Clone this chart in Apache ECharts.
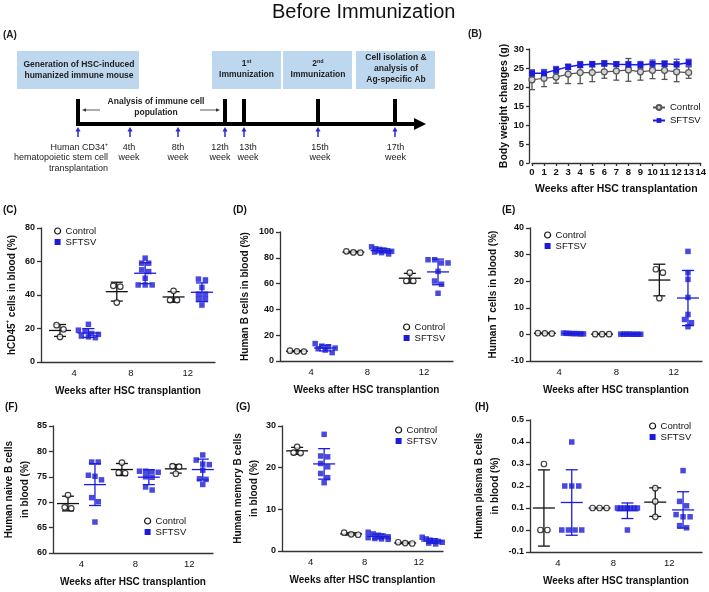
<!DOCTYPE html>
<html>
<head>
<meta charset="utf-8">
<title>Before Immunization</title>
<script src="https://cdn.jsdelivr.net/npm/echarts@6/dist/echarts.min.js"></script>
<style>
  html, body { margin: 0; padding: 0; background: #fff; }
  #main { width: 709px; height: 592px; }
</style>
</head>
<body>
<div id="main"></div>
<script>
var FONT = 'Arial, "Liberation Sans", sans-serif';
var BLUE = '#1c1cd8';
var BLACK = '#111';
var AXIS = '#333';

// (B) body weight after HSC transplantation
var bwWeeks = [0, 1, 2, 3, 4, 5, 6, 7, 8, 9, 10, 11, 12, 13];
var bwControl = [21.9, 22.3, 22.6, 23.4, 23.8, 23.8, 24.0, 24.2, 24.5, 24.0, 24.4, 24.4, 24.0, 23.8];
var bwControlSd = [2.6, 2.2, 1.6, 2.5, 2.9, 2.4, 1.7, 2.4, 3.0, 2.2, 2.2, 2.4, 2.6, 1.5];
var bwSftsv = [23.6, 23.6, 24.5, 25.3, 25.8, 26.0, 26.2, 26.0, 25.9, 25.8, 26.1, 26.1, 25.9, 26.4];
var bwSftsvSd = [0.8, 1.0, 0.9, 0.7, 0.7, 0.7, 0.7, 0.6, 0.8, 0.9, 1.0, 0.7, 1.4, 0.9];

// (C)-(H): one array per week (4, 8, 12)
var weekLabels = ['4', '8', '12'];

var cd45Control = [[22, 19.5, 15], [45.5, 45, 35.5], [42.5, 37, 37]];
var cd45Sftsv = [[22.5, 19, 18.5, 17, 16.5, 15.5, 15, 14.5], [62, 59, 59, 55, 54, 50, 46, 46, 46], [49.5, 49, 44.5, 40.5, 40.5, 37.5, 37.5, 34]];

var bCellControl = [[8, 7.5, 7.3], [85, 84.2, 84], [68.5, 62, 62]];
var bCellSftsv = [[13.5, 11.5, 11, 10, 9.5, 8.5, 6.5], [88.5, 87, 86.5, 86, 85.5, 85, 84.5, 84, 83], [78.5, 78.5, 76, 76, 69.5, 62, 59.5, 52.5]];

var tCellControl = [[0.5, 0.3, 0.4], [0.1, 0.1, 0.1], [24.5, 23.2, 13.6]];
var tCellSftsv = [[0.5, 0.4, 0.3, 0.3, 0.2, 0.2, 0.3, 0.4], [0.1, 0.05, 0.05, 0.1, 0.05, 0.1, 0.05, 0.1], [31.2, 23.2, 20.7, 13.9, 7.5, 5.6, 4.4, 2.9]];

var naiveControl = [[71.4, 69, 68.8], [77.8, 75.8, 75.7], [77.1, 77, 75.6]];
var naiveSftsv = [[77.9, 77.9, 75.3, 75.1, 74.4, 70.9, 70.1, 66.1], [76.1, 76.1, 76, 75.9, 75, 74.9, 73, 72.4], [79.3, 78.3, 77.5, 77.4, 76.3, 74.6, 74.5, 73.5]];

var memoryControl = [[25, 23.6, 23.5], [4.4, 3.9, 4.0], [2.1, 1.8, 1.9]];
var memorySftsv = [[28, 22.8, 22.6, 21, 20.2, 18.6, 17.6, 16.4], [4.5, 4.1, 3.8, 3.6, 3.4, 3.2, 3.0, 2.9, 2.8], [3.3, 2.9, 2.6, 2.4, 2.3, 2.1, 1.9, 1.7]];

var plasmaControl = [[0.3, 0, 0], [0.1, 0.1, 0.1], [0.19, 0.13, 0.06]];
var plasmaSftsv = [[0.4, 0.2, 0.2, 0.2, 0, 0, 0, 0], [0.1, 0.1, 0.1, 0.1, 0.1, 0.1, 0.1, 0], [0.27, 0.13, 0.11, 0.07, 0.06, 0.06, 0.02, 0.01]];

var xName = 'Weeks after HSC transplantion';

// layout of the six dot plots
var panels = [
  { tag: '(C)', tx: 3, ty: 210, ctrl: cd45Control, sftsv: cd45Sftsv, left: 41, top: 228, width: 174, height: 134,
    ymin: 0, ymax: 80, yint: 20, xmin: -0.67, xmax: 5.46, name: '{n|hCD45}{s|+}{n| cells in blood (%)}', nameGap: 21,
    legend: [54, 225.5] },
  { tag: '(D)', tx: 233, ty: 210, ctrl: bCellControl, sftsv: bCellSftsv, left: 280, top: 232, width: 173, height: 129,
    ymin: 0, ymax: 100, yint: 20, xmin: -0.6, xmax: 5.53, name: 'Human B cells in blood (%)', nameGap: 27,
    legend: [403, 321.5] },
  { tag: '(E)', tx: 502, ty: 210, ctrl: tCellControl, sftsv: tCellSftsv, left: 530, top: 228, width: 172, height: 133,
    ymin: -10, ymax: 40, yint: 10, xmin: -0.52, xmax: 5.49, name: 'Human T cells in blood (%)', nameGap: 29,
    legend: [544, 229.5] },
  { tag: '(F)', tx: 5, ty: 407, ctrl: naiveControl, sftsv: naiveSftsv, left: 42, top: 426, width: 171, height: 127,
    ymin: 60, ymax: 85, yint: 5, xmin: -0.56, xmax: 5.38, name: 'Human naive B cells\nin blood (%)', nameGap: 15,
    legend: [144, 515.5] },
  { tag: '(G)', tx: 236, ty: 407, ctrl: memoryControl, sftsv: memorySftsv, left: 282, top: 426, width: 161, height: 125,
    ymin: 0, ymax: 30, yint: 10, xmin: -0.56, xmax: 5.4, name: 'Human memory B cells\nin blood (%)', nameGap: 20,
    legend: [395, 424.5] },
  { tag: '(H)', tx: 475, ty: 407, ctrl: plasmaControl, sftsv: plasmaSftsv, left: 530, top: 420, width: 172, height: 132,
    ymin: -0.1, ymax: 0.5, yint: 0.1, xmin: -0.5, xmax: 5.68, name: 'Human plasma B cells\nin blood (%)', nameGap: 27,
    legend: [649, 420.5], dec: 1 }
];

function meanSd(a) {
  var m = 0, v = 0;
  for (var i = 0; i < a.length; i++) m += a[i];
  m = m / a.length;
  for (var j = 0; j < a.length; j++) v += (a[j] - m) * (a[j] - m);
  return [m, Math.sqrt(v / (a.length - 1))];
}

// spread points that would overlap into a centred row (like a scatter dot plot)
function spread(vals, col, ppu, cpx) {
  var sorted = vals.slice().sort(function (a, b) { return b - a; });
  var rows = [];
  sorted.forEach(function (v) {
    var r = rows[rows.length - 1];
    if (r && (r[0] - v) * ppu < 5) r.push(v); else rows.push([v]);
  });
  var out = [];
  rows.forEach(function (r) {
    var n = r.length;
    var gap = n > 1 ? Math.min(7, 20 / (n - 1)) : 0;
    r.forEach(function (v, i) { out.push([col + (i - (n - 1) / 2) * gap / cpx, v]); });
  });
  return out;
}

function errRender(hw, cw, color) {
  return function (params, api) {
    var x = api.value(0), m = api.value(1), sd = api.value(2);
    var c = api.coord([x, m]);
    var t = api.coord([x, m + sd]);
    var b = api.coord([x, m - sd]);
    var st = { stroke: color, lineWidth: 1.3 };
    var ch = [
      { type: 'line', shape: { x1: c[0], y1: t[1], x2: c[0], y2: b[1] }, style: st },
      { type: 'line', shape: { x1: c[0] - cw, y1: t[1], x2: c[0] + cw, y2: t[1] }, style: st },
      { type: 'line', shape: { x1: c[0] - cw, y1: b[1], x2: c[0] + cw, y2: b[1] }, style: st }
    ];
    if (hw) ch.push({ type: 'line', shape: { x1: c[0] - hw, y1: c[1], x2: c[0] + hw, y2: c[1] }, style: st });
    return { type: 'group', children: ch };
  };
}

var boldName = { fontFamily: FONT, fontWeight: 'bold', fontSize: 10, color: BLACK };

var grids = [], xAxes = [], yAxes = [], series = [], legends = [], graphics = [];

// ---- panel B ----
grids.push({ left: 532, top: 49, width: 170, height: 114 });
xAxes.push({
  type: 'value', gridIndex: 0, min: 0, max: 14, interval: 1,
  name: 'Weeks after HSC transplantation', nameLocation: 'middle', nameGap: 21,
  nameTextStyle: { fontFamily: FONT, fontWeight: 'bold', fontSize: 10.5, color: BLACK },
  axisLine: { onZero: false, lineStyle: { color: AXIS, width: 1.3 } },
  axisTick: { length: 3, lineStyle: { color: AXIS, width: 1.3 } },
  axisLabel: { interval: 0, hideOverlap: false, fontFamily: FONT, fontWeight: 'bold', fontSize: 9.5, color: BLACK, margin: 4 },
  splitLine: { show: false }
});
yAxes.push({
  type: 'value', gridIndex: 0, min: 0, max: 30, interval: 5, offset: 3,
  name: 'Body weight changes (g)', nameLocation: 'middle', nameGap: 19,
  nameTextStyle: { fontFamily: FONT, fontWeight: 'bold', fontSize: 10.5, color: BLACK },
  axisLine: { show: true, onZero: false, lineStyle: { color: AXIS, width: 1.3 } },
  axisTick: { show: true, length: 3, lineStyle: { color: AXIS, width: 1.3 } },
  axisLabel: { fontFamily: FONT, fontWeight: 'bold', fontSize: 9.5, color: BLACK, margin: 5 },
  splitLine: { show: false }
});

series.push({
  name: 'Control', type: 'line', xAxisIndex: 0, yAxisIndex: 0, z: 4,
  data: bwWeeks.map(function (w, i) { return [w, bwControl[i]]; }),
  symbol: 'circle', symbolSize: 6,
  lineStyle: { color: '#555', width: 1.2 },
  itemStyle: { color: '#d4d4d4', borderColor: '#555', borderWidth: 1.2 }
});
series.push({
  name: 'SFTSV', type: 'line', xAxisIndex: 0, yAxisIndex: 0, z: 5,
  data: bwWeeks.map(function (w, i) { return [w, bwSftsv[i]]; }),
  symbol: 'rect', symbolSize: 6,
  lineStyle: { color: BLUE, width: 1.5 },
  itemStyle: { color: BLUE }
});
series.push({
  type: 'custom', xAxisIndex: 0, yAxisIndex: 0, z: 2,
  renderItem: errRender(0, 3, '#555'),
  data: bwWeeks.map(function (w, i) { return [w, bwControl[i], bwControlSd[i]]; })
});
series.push({
  type: 'custom', xAxisIndex: 0, yAxisIndex: 0, z: 3,
  renderItem: errRender(0, 3, '#4a4ae0'),
  data: bwWeeks.map(function (w, i) { return [w, bwSftsv[i], bwSftsvSd[i]]; })
});
legends.push({
  left: 652, top: 102, orient: 'vertical', itemWidth: 12, itemHeight: 6, itemGap: 2, padding: 0,
  selectedMode: false,
  textStyle: { fontFamily: FONT, fontSize: 9.5, color: BLACK, lineHeight: 11 },
  data: ['Control', 'SFTSV']
});

// ---- panels C..H ----
panels.forEach(function (p, k) {
  var g = k + 1;
  var ppu = p.height / (p.ymax - p.ymin);
  var cpx = p.width / (p.xmax - p.xmin);
  grids.push({ left: p.left, top: p.top, width: p.width, height: p.height });
  xAxes.push({
    type: 'value', gridIndex: g, min: p.xmin, max: p.xmax,
    name: xName, nameLocation: 'middle', nameGap: 24, nameTextStyle: boldName,
    axisLine: { onZero: false, lineStyle: { color: AXIS, width: 1.3 } },
    axisTick: { show: false },
    axisLabel: {
      customValues: [0.5, 2.5, 4.5], fontFamily: FONT, fontSize: 9.5, color: BLACK, margin: 6,
      formatter: function (v) { return weekLabels[Math.round((v - 0.5) / 2)]; }
    },
    splitLine: { show: false }
  });
  yAxes.push({
    type: 'value', gridIndex: g, min: p.ymin, max: p.ymax, interval: p.yint,
    name: p.name, nameLocation: 'middle', nameGap: p.nameGap,
    nameTextStyle: {
      fontFamily: FONT, fontWeight: 'bold', fontSize: 10, color: BLACK, lineHeight: 16,
      rich: {
        n: { fontFamily: FONT, fontWeight: 'bold', fontSize: 10, color: BLACK, lineHeight: 13 },
        s: { fontFamily: FONT, fontWeight: 'bold', fontSize: 6, color: BLACK, verticalAlign: 'top' }
      }
    },
    axisLine: { show: true, onZero: false, lineStyle: { color: AXIS, width: 1.3 } },
    axisTick: { show: true, length: 4, lineStyle: { color: AXIS, width: 1.3 } },
    axisLabel: {
      fontFamily: FONT, fontWeight: 'bold', fontSize: 9, color: BLACK, margin: 6,
      formatter: function (v) { return p.dec ? v.toFixed(1) : String(v); }
    },
    splitLine: { show: false }
  });

  var ctrlPts = [], sftsvPts = [], ctrlErr = [], sftsvErr = [];
  for (var w = 0; w < 3; w++) {
    ctrlPts = ctrlPts.concat(spread(p.ctrl[w], 2 * w, ppu, cpx));
    sftsvPts = sftsvPts.concat(spread(p.sftsv[w], 2 * w + 1, ppu, cpx));
    ctrlErr.push([2 * w].concat(meanSd(p.ctrl[w])));
    sftsvErr.push([2 * w + 1].concat(meanSd(p.sftsv[w])));
  }
  series.push({ type: 'custom', xAxisIndex: g, yAxisIndex: g, z: 2, renderItem: errRender(11, 6, BLACK), data: ctrlErr });
  series.push({ type: 'custom', xAxisIndex: g, yAxisIndex: g, z: 2, renderItem: errRender(11, 6, BLUE), data: sftsvErr });
  series.push({
    name: 'Control', type: 'scatter', xAxisIndex: g, yAxisIndex: g, z: 3,
    symbol: 'circle', symbolSize: 5.5, data: ctrlPts,
    itemStyle: { color: '#fff', borderColor: BLACK, borderWidth: 1.2 }
  });
  series.push({
    name: 'SFTSV', type: 'scatter', xAxisIndex: g, yAxisIndex: g, z: 3,
    symbol: 'rect', symbolSize: 5.5, data: sftsvPts,
    itemStyle: { color: BLUE }
  });
  legends.push({
    left: p.legend[0], top: p.legend[1], orient: 'vertical', itemWidth: 6, itemHeight: 6, itemGap: 0, padding: 0,
    selectedMode: false,
    textStyle: { fontFamily: FONT, fontSize: 9.5, color: BLACK, lineHeight: 11 },
    data: [
      { name: 'Control', icon: 'circle', itemStyle: { color: '#fff', borderColor: BLACK, borderWidth: 1.2 } },
      { name: 'SFTSV', icon: 'rect', itemStyle: { color: BLUE, borderWidth: 0 } }
    ]
  });
  graphics.push({ type: 'text', x: p.tx, y: p.ty, style: { text: p.tag, font: 'bold 10px ' + FONT, fill: BLACK, textVerticalAlign: 'middle' } });
});

// ---- panel A: timeline schematic ----
function txt(x, y, s, font, align, extra) {
  var st = { text: s, font: font, fill: '#222', textAlign: align || 'center', textVerticalAlign: 'middle' };
  if (extra) for (var k in extra) st[k] = extra[k];
  return { type: 'text', x: x, y: y, style: st };
}
var boxFont = 'bold 8.5px ' + FONT;
var lblFont = '9px ' + FONT;
var supRich = {
  m: { font: boxFont, fill: '#222', lineHeight: 11 },
  u: { font: 'bold 5.5px ' + FONT, fill: '#222', verticalAlign: 'top' }
};

graphics.push(txt(3, 35, '(A)', 'bold 10px ' + FONT, 'left'));
graphics.push(txt(468, 34, '(B)', 'bold 10px ' + FONT, 'left'));

[[17, 122], [212, 69], [283, 69], [356, 79]].forEach(function (b) {
  graphics.push({ type: 'rect', shape: { x: b[0], y: 51, width: b[1], height: 38 }, style: { fill: '#bdd7ee' } });
});
graphics.push(txt(79, 70, 'Generation of HSC-induced\nhumanized immune mouse', boxFont, 'center', { lineHeight: 11 }));
graphics.push(txt(246.5, 69, '{m|1}{u|st}\n{m|Immunization}', boxFont, 'center', { rich: supRich, lineHeight: 11 }));
graphics.push(txt(318, 69, '{m|2}{u|nd}\n{m|Immunization}', boxFont, 'center', { rich: supRich, lineHeight: 11 }));
graphics.push(txt(396, 69, 'Cell isolation &\nanalysis of\nAg-specific Ab', boxFont, 'center', { lineHeight: 11 }));

// main time arrow and week ticks
graphics.push({ type: 'line', shape: { x1: 76, y1: 124, x2: 416, y2: 124 }, style: { stroke: '#000', lineWidth: 4 } });
graphics.push({ type: 'polygon', shape: { points: [[414, 118], [426, 124], [414, 130]] }, style: { fill: '#000' } });
[78, 225, 244, 318, 395].forEach(function (x) {
  graphics.push({ type: 'rect', shape: { x: x - 2, y: 99, width: 4, height: 25 }, style: { fill: '#000' } });
});
[78, 130, 178, 225, 244, 318, 395].forEach(function (x) {
  graphics.push({ type: 'line', shape: { x1: x, y1: 137, x2: x, y2: 130 }, style: { stroke: '#2a2ad0', lineWidth: 1.5 } });
  graphics.push({ type: 'polygon', shape: { points: [[x - 2.5, 131.5], [x, 127], [x + 2.5, 131.5]] }, style: { fill: '#2a2ad0' } });
});

graphics.push(txt(156, 107, 'Analysis of immune cell\npopulation', boxFont, 'center', { lineHeight: 11 }));
graphics.push({ type: 'line', shape: { x1: 100, y1: 110, x2: 85, y2: 110 }, style: { stroke: '#333', lineWidth: 0.8 } });
graphics.push({ type: 'polygon', shape: { points: [[86, 108.2], [82, 110], [86, 111.8]] }, style: { fill: '#333' } });
graphics.push({ type: 'line', shape: { x1: 200, y1: 110, x2: 217, y2: 110 }, style: { stroke: '#333', lineWidth: 0.8 } });
graphics.push({ type: 'polygon', shape: { points: [[216, 108.2], [220, 110], [216, 111.8]] }, style: { fill: '#333' } });

graphics.push(txt(108, 158, 'Human CD34\u207A\nhematopoietic stem cell\ntransplantation', lblFont, 'right', { lineHeight: 10.5 }));
[[129, '4th'], [178, '8th'], [220, '12th'], [248, '13th'], [320, '15th'], [395.5, '17th']].forEach(function (t) {
  graphics.push(txt(t[0], 152.5, t[1] + '\nweek', lblFont, 'center', { lineHeight: 10.5 }));
});

var chart = echarts.init(document.getElementById('main'), null, { renderer: 'canvas' });
chart.setOption({
  animation: false,
  backgroundColor: '#fff',
  title: {
    text: 'Before Immunization', left: 272, top: 2, padding: 0,
    textStyle: { fontFamily: FONT, fontSize: 20, fontWeight: 'normal', color: BLACK }
  },
  grid: grids,
  xAxis: xAxes,
  yAxis: yAxes,
  legend: legends,
  series: series,
  graphic: { elements: graphics }
});
</script>
</body>
</html>
